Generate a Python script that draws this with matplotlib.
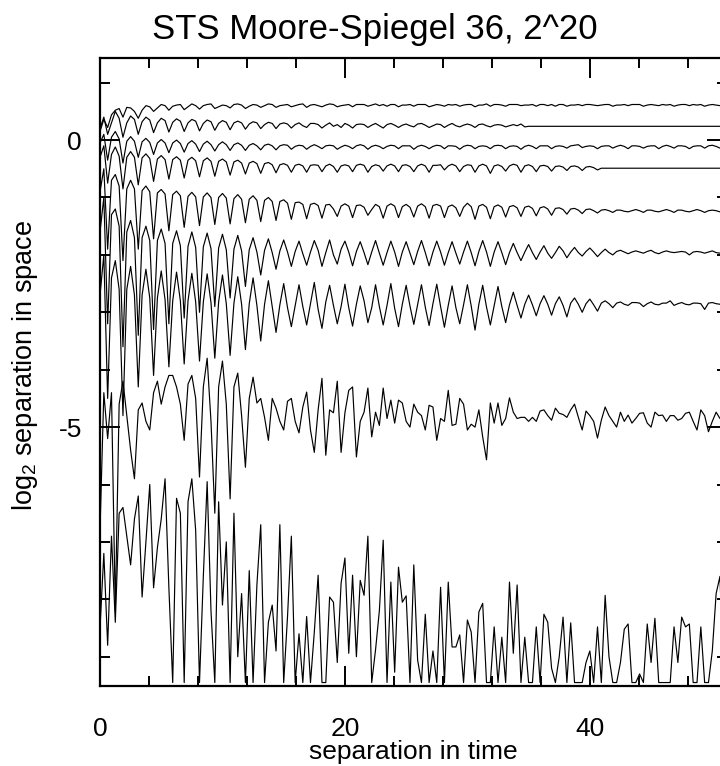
import numpy as np
import matplotlib
matplotlib.use('Agg')
import matplotlib.pyplot as plt
from matplotlib.ticker import MultipleLocator

plt.rcParams['font.family'] = ['Liberation Sans', 'DejaVu Sans']
plt.rcParams['axes.unicode_minus'] = False

# time step between samples (separation in time)
dt = 0.3125

# log2 separation, one list per contour line
curve_a = [0.15, 0.36, 0.22, 0.44, 0.52, 0.55, 0.40, 0.57,
           0.56, 0.50, 0.38, 0.52, 0.60, 0.58, 0.50, 0.56,
           0.62, 0.60, 0.52, 0.59, 0.61, 0.62, 0.53, 0.58,
           0.63, 0.60, 0.54, 0.60, 0.62, 0.63, 0.55, 0.58,
           0.61, 0.60, 0.56, 0.62, 0.63, 0.61, 0.55, 0.59,
           0.62, 0.61, 0.57, 0.60, 0.63, 0.62, 0.57, 0.60,
           0.61, 0.62, 0.58, 0.60, 0.62, 0.63, 0.57, 0.61,
           0.62, 0.60, 0.58, 0.61, 0.63, 0.62, 0.58, 0.60,
           0.61, 0.62, 0.58, 0.62, 0.62, 0.62, 0.59, 0.61,
           0.63, 0.60, 0.62, 0.59, 0.62, 0.62, 0.58, 0.61,
           0.61, 0.62, 0.59, 0.62, 0.62, 0.62, 0.58, 0.60,
           0.62, 0.61, 0.59, 0.62, 0.61, 0.62, 0.59, 0.61,
           0.62, 0.62, 0.58, 0.61, 0.61, 0.63, 0.59, 0.62,
           0.62, 0.61, 0.59, 0.62, 0.62, 0.62, 0.60, 0.61,
           0.61, 0.62, 0.59, 0.62, 0.62, 0.60, 0.62, 0.59,
           0.62, 0.62, 0.59, 0.61, 0.61, 0.62, 0.60, 0.62,
           0.62, 0.61, 0.60, 0.61, 0.62, 0.62, 0.59, 0.61,
           0.61, 0.62, 0.60, 0.62, 0.62, 0.62, 0.59, 0.61,
           0.62, 0.61, 0.60, 0.62, 0.61, 0.62, 0.59, 0.61,
           0.62, 0.62, 0.60, 0.62, 0.61, 0.62, 0.59, 0.61,
           0.62, 0.61, 0.60, 0.61]

curve_b = [0.20, 0.40, 0.10, 0.30, 0.50, 0.38, 0.05, 0.30,
           0.42, 0.36, 0.10, 0.32, 0.40, 0.35, 0.13, 0.30,
           0.38, 0.34, 0.14, 0.31, 0.37, 0.33, 0.15, 0.30,
           0.36, 0.33, 0.16, 0.29, 0.35, 0.32, 0.17, 0.29,
           0.34, 0.31, 0.18, 0.30, 0.33, 0.30, 0.19, 0.28,
           0.32, 0.30, 0.20, 0.27, 0.31, 0.29, 0.20, 0.28,
           0.30, 0.28, 0.21, 0.27, 0.30, 0.25, 0.22, 0.29,
           0.29, 0.27, 0.21, 0.26, 0.30, 0.24, 0.27, 0.22,
           0.29, 0.26, 0.21, 0.27, 0.28, 0.27, 0.22, 0.26,
           0.29, 0.25, 0.21, 0.27, 0.29, 0.26, 0.22, 0.26,
           0.28, 0.25, 0.23, 0.28, 0.29, 0.26, 0.22, 0.25,
           0.28, 0.27, 0.22, 0.26, 0.29, 0.25, 0.23, 0.26,
           0.28, 0.26, 0.22, 0.27, 0.28, 0.25, 0.23, 0.26,
           0.27, 0.26, 0.23, 0.25, 0.27, 0.25, 0.28, 0.23,
           0.24, 0.24, 0.24, 0.24, 0.24, 0.24, 0.24, 0.24,
           0.24, 0.24, 0.24, 0.24, 0.24, 0.24, 0.24, 0.24,
           0.24, 0.24, 0.24, 0.24, 0.24, 0.24, 0.24, 0.24,
           0.24, 0.24, 0.24, 0.24, 0.24, 0.24, 0.24, 0.24,
           0.24, 0.24, 0.24, 0.24, 0.24, 0.24, 0.24, 0.24,
           0.24, 0.24, 0.24, 0.24, 0.24, 0.24, 0.24, 0.24,
           0.24, 0.24, 0.24, 0.24]

curve_c = [-0.05, 0.10, -0.35, 0.05, 0.15, 0.02, -0.40, -0.02,
           0.06, -0.02, -0.30, -0.03, 0.03, -0.04, -0.25, -0.05,
           0.01, -0.05, -0.22, -0.05, 0.00, -0.06, -0.21, -0.06,
           -0.01, -0.07, -0.20, -0.07, -0.02, -0.08, -0.19, -0.08,
           -0.03, -0.08, -0.18, -0.08, -0.05, -0.09, -0.18, -0.09,
           -0.06, -0.10, -0.17, -0.09, -0.07, -0.10, -0.17, -0.10,
           -0.08, -0.09, -0.16, -0.11, -0.09, -0.10, -0.16, -0.11,
           -0.08, -0.11, -0.15, -0.10, -0.09, -0.10, -0.16, -0.12,
           -0.09, -0.11, -0.15, -0.10, -0.08, -0.10, -0.16, -0.11,
           -0.09, -0.11, -0.15, -0.11, -0.09, -0.10, -0.15, -0.10,
           -0.10, -0.10, -0.16, -0.11, -0.09, -0.11, -0.15, -0.11,
           -0.09, -0.10, -0.15, -0.10, -0.10, -0.11, -0.16, -0.11,
           -0.09, -0.10, -0.15, -0.11, -0.10, -0.11, -0.15, -0.10,
           -0.09, -0.10, -0.15, -0.11, -0.10, -0.11, -0.16, -0.11,
           -0.09, -0.11, -0.15, -0.10, -0.10, -0.10, -0.15, -0.11,
           -0.10, -0.11, -0.14, -0.10, -0.09, -0.08, -0.13, -0.11,
           -0.10, -0.11, -0.15, -0.11, -0.10, -0.10, -0.14, -0.11,
           -0.09, -0.11, -0.15, -0.10, -0.10, -0.11, -0.14, -0.11,
           -0.10, -0.10, -0.15, -0.11, -0.09, -0.11, -0.14, -0.10,
           -0.10, -0.11, -0.15, -0.11, -0.10, -0.10, -0.14, -0.10,
           -0.09, -0.11, -0.14, -0.10]

curve_d = [-0.30, -0.10, -0.75, -0.25, -0.12, -0.28, -0.85, -0.30,
           -0.20, -0.30, -0.78, -0.31, -0.24, -0.32, -0.72, -0.33,
           -0.27, -0.34, -0.68, -0.34, -0.29, -0.35, -0.66, -0.35,
           -0.30, -0.36, -0.64, -0.36, -0.31, -0.37, -0.63, -0.37,
           -0.33, -0.38, -0.61, -0.38, -0.35, -0.40, -0.59, -0.40,
           -0.37, -0.41, -0.58, -0.41, -0.39, -0.43, -0.57, -0.43,
           -0.41, -0.44, -0.56, -0.44, -0.42, -0.45, -0.56, -0.44,
           -0.43, -0.44, -0.55, -0.45, -0.42, -0.46, -0.56, -0.45,
           -0.43, -0.45, -0.55, -0.44, -0.42, -0.44, -0.56, -0.46,
           -0.43, -0.45, -0.54, -0.45, -0.42, -0.45, -0.55, -0.44,
           -0.43, -0.46, -0.55, -0.45, -0.42, -0.45, -0.56, -0.44,
           -0.44, -0.43, -0.52, -0.45, -0.42, -0.45, -0.55, -0.46,
           -0.43, -0.44, -0.56, -0.45, -0.42, -0.45, -0.58, -0.45,
           -0.43, -0.46, -0.54, -0.45, -0.42, -0.44, -0.56, -0.45,
           -0.43, -0.46, -0.55, -0.45, -0.44, -0.46, -0.54, -0.46,
           -0.45, -0.47, -0.53, -0.46, -0.45, -0.47, -0.53, -0.47,
           -0.46, -0.48, -0.52, -0.49, -0.49, -0.49, -0.49, -0.49,
           -0.49, -0.49, -0.49, -0.49, -0.49, -0.49, -0.49, -0.49,
           -0.49, -0.49, -0.49, -0.49, -0.49, -0.49, -0.49, -0.49,
           -0.49, -0.49, -0.49, -0.49, -0.49, -0.49, -0.49, -0.49,
           -0.49, -0.49, -0.49, -0.49]

curve_e = [-0.90, -0.50, -1.90, -0.70, -0.60, -0.80, -2.10, -0.85,
           -0.70, -0.85, -1.90, -0.88, -0.80, -0.90, -1.72, -0.92,
           -0.86, -0.94, -1.58, -0.95, -0.89, -0.97, -1.52, -0.98,
           -0.91, -0.99, -1.49, -0.99, -0.92, -1.00, -1.47, -1.00,
           -0.93, -1.01, -1.46, -1.02, -0.95, -1.03, -1.44, -1.03,
           -0.97, -1.05, -1.42, -1.05, -1.00, -1.07, -1.40, -1.07,
           -1.04, -1.10, -1.38, -1.09, -1.08, -1.12, -1.37, -1.12,
           -1.10, -1.14, -1.36, -1.13, -1.12, -1.20, -1.33, -1.15,
           -1.11, -1.15, -1.35, -1.14, -1.13, -1.17, -1.31, -1.21,
           -1.12, -1.16, -1.36, -1.15, -1.11, -1.15, -1.35, -1.16,
           -1.12, -1.17, -1.34, -1.15, -1.11, -1.16, -1.36, -1.14,
           -1.12, -1.15, -1.35, -1.16, -1.13, -1.18, -1.33, -1.17,
           -1.10, -1.16, -1.38, -1.15, -1.12, -1.17, -1.37, -1.16,
           -1.13, -1.17, -1.34, -1.16, -1.14, -1.18, -1.33, -1.17,
           -1.15, -1.19, -1.32, -1.18, -1.16, -1.20, -1.31, -1.19,
           -1.18, -1.21, -1.29, -1.20, -1.19, -1.22, -1.28, -1.21,
           -1.20, -1.23, -1.27, -1.22, -1.21, -1.23, -1.26, -1.22,
           -1.22, -1.24, -1.25, -1.23, -1.21, -1.23, -1.26, -1.22,
           -1.22, -1.24, -1.25, -1.23, -1.21, -1.23, -1.26, -1.22,
           -1.22, -1.24, -1.25, -1.23, -1.21, -1.23, -1.26, -1.23,
           -1.22, -1.23, -1.25, -1.22]

curve_f = [-1.60, -1.00, -3.20, -1.30, -1.20, -1.50, -3.60, -1.60,
           -1.40, -1.70, -3.40, -1.70, -1.50, -1.75, -3.30, -1.75,
           -1.55, -1.80, -3.20, -1.80, -1.58, -1.84, -3.10, -1.85,
           -1.60, -1.87, -3.00, -1.86, -1.62, -1.89, -2.90, -1.88,
           -1.64, -1.91, -2.75, -1.90, -1.66, -1.93, -2.55, -1.91,
           -1.70, -1.95, -2.35, -1.92, -1.72, -1.96, -2.25, -1.93,
           -1.74, -1.95, -2.20, -1.94, -1.76, -1.98, -2.18, -1.95,
           -1.75, -1.92, -2.20, -1.96, -1.74, -2.00, -2.16, -1.90,
           -1.76, -1.95, -2.19, -1.94, -1.77, -1.96, -2.17, -1.95,
           -1.75, -1.97, -2.18, -1.96, -1.76, -1.95, -2.20, -1.95,
           -1.77, -1.97, -2.17, -1.94, -1.75, -1.96, -2.19, -1.95,
           -1.76, -1.95, -2.18, -1.96, -1.77, -1.97, -2.16, -1.95,
           -1.76, -1.96, -2.19, -1.94, -1.75, -1.95, -2.20, -1.95,
           -1.77, -1.96, -2.17, -1.96, -1.80, -1.96, -2.10, -1.95,
           -1.82, -1.96, -2.08, -1.95, -1.84, -1.97, -2.06, -1.96,
           -1.85, -1.93, -2.05, -1.95, -1.87, -1.96, -2.02, -1.94,
           -1.88, -1.95, -2.03, -1.96, -1.90, -1.96, -2.00, -1.94,
           -1.92, -1.95, -1.98, -1.95, -1.93, -1.95, -1.97, -1.94,
           -1.92, -1.96, -1.98, -1.95, -1.93, -1.95, -1.96, -1.95,
           -1.94, -1.95, -2.00, -1.95, -1.94, -1.95, -1.97, -1.95,
           -1.93, -1.96, -1.97, -1.95]

curve_g = [-2.70, -2.00, -4.50, -2.40, -2.10, -2.60, -4.80, -2.60,
           -2.20, -2.70, -4.30, -2.70, -2.25, -2.75, -4.10, -2.75,
           -2.28, -2.78, -3.95, -2.80, -2.30, -2.80, -3.90, -2.80,
           -2.32, -2.82, -3.85, -2.82, -2.33, -2.83, -3.80, -2.82,
           -2.35, -2.85, -3.75, -2.84, -2.38, -2.86, -3.65, -2.85,
           -2.40, -2.88, -3.50, -2.86, -2.45, -2.90, -3.35, -2.87,
           -2.50, -2.92, -3.25, -2.88, -2.52, -2.90, -3.22, -2.85,
           -2.48, -2.95, -3.28, -2.82, -2.53, -2.88, -3.20, -2.90,
           -2.51, -2.92, -3.24, -2.86, -2.54, -2.80, -3.18, -2.92,
           -2.52, -2.90, -3.22, -2.88, -2.50, -2.93, -3.25, -2.86,
           -2.53, -2.89, -3.21, -2.87, -2.52, -2.91, -3.23, -2.85,
           -2.51, -2.90, -3.26, -2.88, -2.54, -2.92, -3.20, -2.87,
           -2.52, -2.89, -3.31, -2.86, -2.53, -2.91, -3.22, -2.88,
           -2.55, -2.90, -3.18, -2.87, -2.65, -2.88, -3.10, -2.86,
           -2.70, -2.87, -3.06, -2.85, -2.71, -2.86, -3.05, -2.85,
           -2.73, -2.88, -3.08, -2.84, -2.75, -2.86, -3.00, -2.85,
           -2.77, -2.87, -2.98, -2.84, -2.80, -2.85, -2.92, -2.84,
           -2.82, -2.86, -2.88, -2.83, -2.83, -2.84, -2.90, -2.85,
           -2.82, -2.86, -2.87, -2.84, -2.84, -2.80, -2.88, -2.85,
           -2.83, -2.86, -2.87, -2.84, -2.84, -2.85, -2.95, -2.84,
           -2.83, -2.85, -2.86, -2.84]

curve_h = [-6.80, -4.40, -5.20, -4.40, -8.20, -4.60, -4.20, -4.80,
           -5.40, -5.90, -4.70, -4.58, -4.90, -5.05, -4.40, -4.20,
           -4.60, -4.30, -4.10, -4.10, -4.30, -4.60, -5.23, -4.25,
           -4.10, -4.50, -5.87, -4.30, -3.80, -4.90, -6.50, -4.30,
           -3.85, -4.60, -6.25, -4.30, -4.06, -4.80, -5.70, -4.50,
           -4.13, -4.58, -4.50, -4.83, -5.23, -4.50, -4.67, -4.90,
           -5.05, -4.55, -4.50, -4.90, -5.10, -4.65, -4.39, -5.05,
           -5.44, -4.70, -4.15, -5.49, -4.70, -4.75, -4.20, -5.44,
           -4.75, -4.36, -4.30, -5.52, -4.90, -4.74, -4.32, -5.17,
           -4.74, -4.97, -4.32, -4.85, -4.53, -4.93, -4.53, -4.58,
           -4.90, -5.00, -4.60, -4.74, -4.80, -5.05, -4.62, -4.65,
           -5.23, -4.85, -4.90, -4.36, -4.97, -4.95, -4.50, -4.60,
           -5.05, -4.95, -5.00, -4.70, -5.17, -5.57, -4.58, -4.93,
           -4.58, -4.97, -4.85, -4.49, -4.74, -4.85, -4.83, -4.83,
           -4.90, -4.83, -4.90, -4.72, -4.70, -4.80, -4.88, -4.67,
           -4.76, -4.78, -4.83, -4.70, -4.60, -4.83, -5.05, -4.72,
           -4.80, -4.90, -5.19, -4.88, -4.65, -4.80, -4.90, -5.00,
           -4.74, -4.90, -4.79, -4.93, -4.85, -4.76, -4.75, -4.93,
           -5.00, -4.74, -4.80, -4.79, -4.90, -4.80, -4.80, -4.88,
           -4.85, -4.76, -4.74, -4.90, -5.05, -4.70, -4.80, -5.08,
           -4.90, -4.74, -4.85, -4.80]

curve_i = [-8.50, -7.20, -8.80, -6.90, -8.40, -6.50, -6.40, -6.90,
           -7.40, -6.60, -6.20, -7.96, -7.00, -6.00, -7.80, -7.10,
           -6.60, -5.90, -7.80, -9.45, -6.24, -6.50, -9.45, -6.30,
           -5.90, -6.80, -9.45, -7.60, -5.95, -8.20, -9.45, -6.30,
           -8.10, -7.00, -9.45, -6.50, -9.00, -7.90, -9.45, -7.50,
           -9.45, -7.75, -6.70, -9.45, -8.40, -8.10, -8.90, -6.70,
           -9.45, -8.30, -6.90, -9.45, -8.60, -9.45, -8.30, -9.45,
           -8.57, -7.58, -9.45, -9.45, -7.96, -8.05, -9.10, -7.72,
           -7.28, -8.94, -7.58, -9.00, -7.67, -7.93, -6.90, -9.45,
           -8.88, -8.20, -6.97, -9.45, -7.70, -9.27, -7.44, -8.05,
           -7.94, -9.45, -7.40, -9.06, -9.45, -8.26, -9.45, -8.90,
           -9.45, -7.79, -9.45, -7.70, -8.83, -8.83, -8.62, -9.45,
           -8.36, -8.57, -9.45, -8.22, -8.07, -9.45, -9.45, -8.48,
           -9.45, -8.66, -9.45, -7.70, -8.94, -7.75, -9.45, -8.66,
           -9.45, -9.45, -8.48, -9.45, -8.26, -8.40, -9.20, -9.45,
           -9.00, -8.31, -9.45, -8.41, -9.45, -9.45, -9.45, -9.10,
           -8.90, -9.45, -8.48, -9.45, -7.93, -9.00, -9.45, -9.45,
           -9.10, -8.52, -8.43, -9.45, -9.45, -9.30, -9.45, -8.43,
           -9.10, -8.33, -9.45, -9.45, -9.45, -9.45, -8.48, -9.10,
           -8.31, -8.48, -8.43, -9.45, -9.45, -8.48, -9.45, -9.45,
           -8.90, -7.90, -7.60, -9.45]

curves = [curve_a, curve_b, curve_c, curve_d, curve_e,
          curve_f, curve_g, curve_h, curve_i]

fig = plt.figure(figsize=(7.2, 7.66), dpi=100)
# right border sits just outside the picture, as in the original
ax = fig.add_axes([100 / 720, 1 - 686 / 766, 627 / 720, 628 / 766])

for c in curves:
    t = np.arange(len(c)) * dt
    ax.plot(t, c, color='black', linewidth=0.85)

ax.set_xlim(0, 51.2)
ax.set_ylim(-9.51, 1.43)

ax.set_xticks([0, 20, 40])
ax.set_xticklabels(['0', '20', '40'])
ax.xaxis.set_minor_locator(MultipleLocator(4))
ax.set_yticks([-5, 0])
ax.set_yticklabels(['-5', '0'])
ax.yaxis.set_minor_locator(MultipleLocator(1))

ax.tick_params(which='both', direction='in', top=True, right=True, width=1.4, colors='black')
ax.tick_params(which='major', length=14.4, labelsize=19)
ax.tick_params(which='minor', length=7.2)
ax.tick_params(axis='x', which='major', pad=22)
ax.tick_params(axis='y', which='major', pad=13)
for s in ax.spines.values():
    s.set_linewidth(1.6)

fig.text(375 / 720, 1 - 30 / 766, 'STS Moore-Spiegel 36, 2^20',
         ha='center', va='center', fontsize=25)
fig.text(413 / 720, 1.5 / 766, 'separation in time',
         ha='center', va='bottom', fontsize=19)
fig.text(25 / 720, 1 - 365 / 766, r'log$_\mathregular{2}$ separation in space',
         ha='center', va='center', rotation=90, fontsize=19.5)

fig.savefig('out.png', dpi=100)
